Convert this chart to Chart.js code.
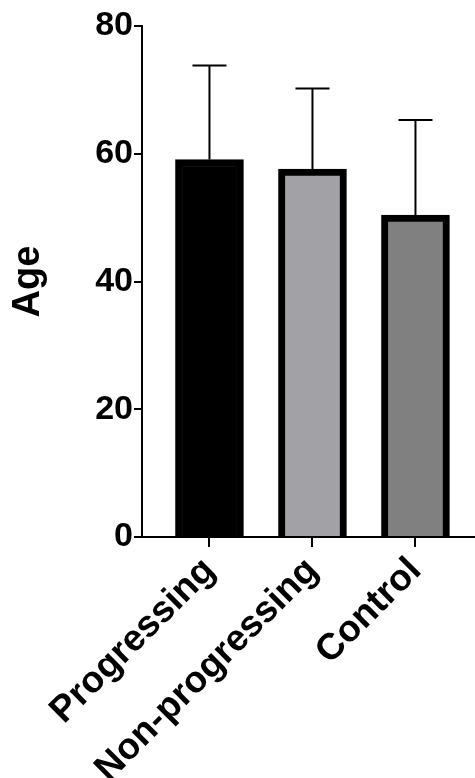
<!DOCTYPE html>
<html>
<head>
<meta charset="utf-8">
<script src="https://cdn.jsdelivr.net/npm/chart.js@4.4.1/dist/chart.umd.min.js"></script>
<style>
  html, body { margin: 0; padding: 0; background: #fff; }
  #chart { display: block; }
</style>
</head>
<body>
<canvas id="chart" width="475" height="778"></canvas>
<script>
// datos
var groups = ['Progressing', 'Non-progressing', 'Control'];
var ageMean = [59.1, 57.6, 50.4];
var ageSD = [14.7, 12.6, 14.9];
var barColors = ['#000000', '#a2a1a6', '#808080'];
var yTicks = [0, 20, 40, 60, 80];

var FONT = 'Liberation Sans, Arial, Helvetica, sans-serif';

// barras de error solo hacia arriba (media + SD)
var errorBars = {
    id: 'errorBars',
    afterDatasetsDraw: function(chart) {
        var ctx = chart.ctx;
        var y = chart.scales.y;
        var meta = chart.getDatasetMeta(0);
        ctx.save();
        ctx.strokeStyle = '#000';
        ctx.lineWidth = 2;
        meta.data.forEach(function(bar, i) {
            var top = y.getPixelForValue(ageMean[i] + ageSD[i]);
            ctx.beginPath();
            ctx.moveTo(bar.x, bar.y);
            ctx.lineTo(bar.x, top);
            ctx.moveTo(bar.x - 17, top);
            ctx.lineTo(bar.x + 17, top);
            ctx.stroke();
        });
        ctx.restore();
    }
};

var ctx = document.getElementById('chart').getContext('2d');
var chart = new Chart(ctx, {
    type: 'bar',
    data: {
        datasets: [{
            label: 'Age',
            data: ageMean.map(function(v, i) { return {x: i, y: v}; }),
            backgroundColor: barColors,
            borderColor: '#000',
            borderWidth: 7,
            barThickness: 68
        }]
    },
    options: {
        responsive: false,
        animation: false,
        layout: { padding: { top: 26, right: 0, bottom: 0, left: 0 } },
        plugins: { legend: { display: false }, tooltip: { enabled: false } },
        scales: {
            x: {
                type: 'linear',
                offset: false,
                min: -0.655,
                max: 2.578,
                afterBuildTicks: function(s) {
                    s.ticks = s.ticks.filter(function(t) { return Number.isInteger(t.value) && t.value >= 0 && t.value < groups.length; });
                },
                afterFit: function(s) { s.height = 241; },
                ticks: {
                    stepSize: 1,
                    autoSkip: false,
                    maxRotation: 45,
                    minRotation: 45,
                    padding: 2,
                    color: '#000',
                    font: { family: FONT, size: 37, weight: 'bold' },
                    callback: function(v) { return groups[v]; }
                },
                grid: { offset: false, drawOnChartArea: false, drawTicks: true, tickLength: 10, color: '#000', lineWidth: 2 },
                border: { display: true, color: '#000', width: 2 }
            },
            y: {
                min: 0,
                max: 80,
                afterBuildTicks: function(s) {
                    s.ticks = yTicks.map(function(v) { return {value: v}; });
                },
                afterFit: function(s) { s.width = 142; },
                ticks: {
                    padding: 1,
                    color: '#000',
                    font: { family: FONT, size: 34, weight: 'bold' }
                },
                title: {
                    display: true,
                    text: 'Age',
                    color: '#000',
                    font: { family: FONT, size: 38, weight: 'bold' },
                    padding: { top: 6, bottom: 0 }
                },
                grid: { drawOnChartArea: false, drawTicks: true, tickLength: 8, color: '#000', lineWidth: 2 },
                border: { display: true, color: '#000', width: 2 }
            }
        }
    },
    plugins: [errorBars]
});
</script>
</body>
</html>
